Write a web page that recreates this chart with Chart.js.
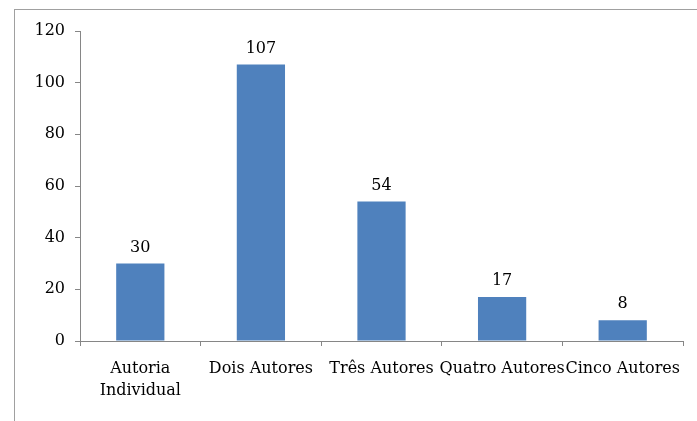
<!DOCTYPE html>
<html>
<head>
<meta charset="utf-8">
<script src="https://cdn.jsdelivr.net/npm/chart.js@4.4.0/dist/chart.umd.min.js"></script>
<style>
  body { margin: 0; background: #fff; }
  #frame { position: absolute; left: 14px; top: 9px; width: 800px; height: 500px; border: 1px solid #a0a0a0; }
  #wrap { position: absolute; left: 0; top: 0; width: 697px; height: 421px; }
</style>
</head>
<body>
<div id="frame"></div>
<div id="wrap"><canvas id="myChart"></canvas></div>
<script>
const categories = [["Autoria", "Individual"], "Dois Autores", "Três Autores", "Quatro Autores", "Cinco Autores"];
const values = [30, 107, 54, 17, 8];
const yTicks = { min: 0, max: 120, step: 20 };
const barColor = "#4f81bd";
const axisColor = "#868686";
const fontFamily = "'DejaVu Serif', serif";

// value labels above each bar
const valueLabels = {
    id: "valueLabels",
    afterDatasetsDraw(chart) {
        const ctx = chart.ctx;
        const meta = chart.getDatasetMeta(0);
        ctx.save();
        ctx.font = "16px " + fontFamily;
        ctx.fillStyle = "#000";
        ctx.textAlign = "center";
        ctx.textBaseline = "bottom";
        meta.data.forEach((bar, i) => {
            ctx.fillText(String(values[i]), bar.x, bar.y - 8);
        });
        ctx.restore();
    }
};

new Chart("myChart", {
    type: "bar",
    data: {
        labels: categories,
        datasets: [{
            data: values,
            backgroundColor: barColor,
            borderWidth: 0,
            barPercentage: 0.4,
            categoryPercentage: 1
        }]
    },
    options: {
        responsive: true,
        maintainAspectRatio: false,
        animation: false,
        layout: { padding: { top: 31, right: 14, left: 0, bottom: 0 } },
        plugins: { legend: { display: false }, tooltip: { enabled: false } },
        scales: {
            x: {
                grid: { display: true, drawOnChartArea: false, offset: true, tickLength: 5, color: axisColor },
                border: { color: axisColor },
                ticks: { color: "#000", font: { family: fontFamily, size: 16, lineHeight: 1.35 }, padding: 12, maxRotation: 0, autoSkip: false },
                afterFit(scale) { scale.height = 80; }
            },
            y: {
                min: yTicks.min,
                max: yTicks.max,
                grid: { display: true, drawOnChartArea: false, tickLength: 5, color: axisColor },
                border: { color: axisColor },
                ticks: { stepSize: yTicks.step, color: "#000", font: { family: fontFamily, size: 16 }, padding: 10 },
                afterFit(scale) { scale.width = 80; }
            }
        }
    },
    plugins: [valueLabels]
});
</script>
</body>
</html>
